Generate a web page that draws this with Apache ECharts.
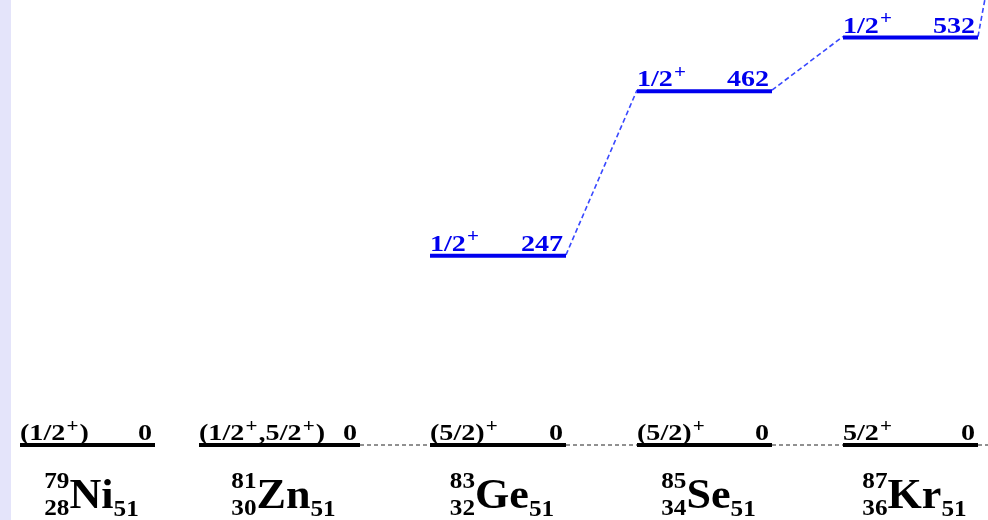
<!DOCTYPE html>
<html>
<head>
<meta charset="utf-8">
<script src="https://cdn.jsdelivr.net/npm/echarts@6/dist/echarts.min.js"></script>
<style>
html,body{margin:0;padding:0;background:#fff;}
#chart{width:988px;height:520px;}
</style>
</head>
<body>
<div id="chart"></div>
<script>
// ---- data ----
const nuclei = ['Ni', 'Zn', 'Ge', 'Se', 'Kr', 'Sr'];
const massNumbers = [79, 81, 83, 85, 87, 89];
const protonNumbers = [28, 30, 32, 34, 36, 38];
const neutronNumbers = [51, 51, 51, 51, 51, 51];
const groundSpins = ['(1/2+)', '(1/2+,5/2+)', '(5/2)+', '(5/2)+', '5/2+', '5/2+'];
const groundEnergies = [0, 0, 0, 0, 0, 0];
const groundLinkToNext = [false, true, true, true, true, false];
const excitedSpins = [null, null, '1/2+', '1/2+', '1/2+', '1/2+'];
const excitedEnergies = [null, null, 247, 462, 532, 1032];

// ---- layout (x-axis units) ----
const LEVEL_LEFT = [20, 199, 430, 637, 843, 1049];
const LEVEL_RIGHT = [155, 360, 566, 772, 978, 1184];
const FONT = '"Liberation Serif", "Times New Roman", serif';
const LABEL_SIZE = 24, SUP_SIZE = 18, LABEL_SX = 1.17;
const SYM_SIZE = 42, IDX_SIZE = 24, NUC_SX = 1.05;

const measureCtx = document.createElement('canvas').getContext('2d');
function textWidth(t, size) {
  measureCtx.font = 'bold ' + size + 'px ' + FONT;
  return measureCtx.measureText(t).width;
}

function richSpin(s) {
  const parts = s.split('+');
  let out = '';
  parts.forEach((p, k) => {
    if (p) out += '{n|' + p + '}';
    if (k < parts.length - 1) out += '{s|+}';
  });
  return out;
}
function richStyles(color) {
  return {
    n: { fontSize: LABEL_SIZE, fontWeight: 'bold', fontFamily: FONT, fill: color, lineHeight: 26, verticalAlign: 'bottom' },
    s: { fontSize: SUP_SIZE, fontWeight: 'bold', fontFamily: FONT, fill: color, lineHeight: 26, verticalAlign: 'top', padding: [-2, 1, 0, 1] }
  };
}

function levelGroup(children, xL, xR, y, spin, energy, color) {
  children.push({
    type: 'line', shape: { x1: xL, y1: y, x2: xR, y2: y },
    style: { stroke: color, lineWidth: 4, lineCap: 'butt' }
  });
  children.push({
    type: 'text', x: xL, y: y + 1, scaleX: LABEL_SX,
    style: { text: richSpin(spin), rich: richStyles(color), align: 'left', verticalAlign: 'bottom' }
  });
  children.push({
    type: 'text', x: xR - 3, y: y + 1, scaleX: LABEL_SX,
    style: { text: '{n|' + energy + '}', rich: richStyles(color), align: 'right', verticalAlign: 'bottom' }
  });
}

function renderItem(params, api) {
  const i = params.dataIndex;
  const n = nuclei.length;
  const children = [];
  const xL = api.coord([LEVEL_LEFT[i], 0])[0];
  const xR = api.coord([LEVEL_RIGHT[i], 0])[0];
  const yG = api.coord([0, groundEnergies[i]])[1];
  if (i + 1 < n) {
    const xLn = api.coord([LEVEL_LEFT[i + 1], 0])[0];
    if (groundLinkToNext[i]) {
      const yGn = api.coord([0, groundEnergies[i + 1]])[1];
      children.push({ type: 'line', shape: { x1: xR, y1: yG, x2: xLn, y2: yGn },
        style: { stroke: '#222', lineWidth: 1, lineDash: [4, 3] } });
    }
    if (excitedEnergies[i] != null && excitedEnergies[i + 1] != null) {
      const yE = api.coord([0, excitedEnergies[i]])[1];
      const yEn = api.coord([0, excitedEnergies[i + 1]])[1];
      children.push({ type: 'line', shape: { x1: xR, y1: yE - 1, x2: xLn, y2: yEn - 1 },
        style: { stroke: '#3848ff', lineWidth: 1.6, lineDash: [5, 3] } });
    }
  }
  levelGroup(children, xL, xR, yG, groundSpins[i], groundEnergies[i], '#000');
  if (excitedEnergies[i] != null) {
    const yE = api.coord([0, excitedEnergies[i]])[1];
    levelGroup(children, xL, xR, yE, excitedSpins[i], excitedEnergies[i], '#0000ee');
  }
  // nucleus label
  const A = String(massNumbers[i]), Z = String(protonNumbers[i]), N = String(neutronNumbers[i]);
  const wIdx = Math.max(textWidth(A, IDX_SIZE), textWidth(Z, IDX_SIZE)) * NUC_SX;
  const wSym = textWidth(nuclei[i], SYM_SIZE) * NUC_SX;
  const wN = textWidth(N, IDX_SIZE) * NUC_SX;
  const total = wIdx + wSym + wN;
  const cx = (xL + xR) / 2 + 4;
  const x0 = cx - total / 2;
  const baseStyle = (t, size) => ({ text: t, fontSize: size, fontWeight: 'bold', fontFamily: FONT, fill: '#000', verticalAlign: 'bottom' });
  children.push({ type: 'text', x: x0 + wIdx, y: 494, scaleX: NUC_SX, style: Object.assign(baseStyle(A, IDX_SIZE), { align: 'right' }) });
  children.push({ type: 'text', x: x0 + wIdx, y: 521, scaleX: NUC_SX, style: Object.assign(baseStyle(Z, IDX_SIZE), { align: 'right' }) });
  children.push({ type: 'text', x: x0 + wIdx, y: 518, scaleX: NUC_SX, style: Object.assign(baseStyle(nuclei[i], SYM_SIZE), { align: 'left' }) });
  children.push({ type: 'text', x: x0 + wIdx + wSym, y: 522, scaleX: NUC_SX, style: Object.assign(baseStyle(N, IDX_SIZE), { align: 'left' }) });
  return { type: 'group', children };
}

const chart = echarts.init(document.getElementById('chart'), null, { renderer: 'canvas' });
chart.setOption({
  backgroundColor: '#ffffff',
  animation: false,
  grid: { left: 0, right: 0, top: 0, bottom: 75 },
  xAxis: { type: 'value', min: 0, max: 988, show: false },
  yAxis: { type: 'value', min: 0, max: 581, show: false },
  graphic: [{ type: 'rect', left: 0, top: 0, shape: { width: 11, height: 520 }, style: { fill: '#e4e4fa' }, silent: true }],
  series: [{
    type: 'custom',
    clip: false,
    silent: true,
    renderItem: renderItem,
    data: nuclei.map((_, i) => [i, groundEnergies[i]])
  }]
});
</script>
</body>
</html>
